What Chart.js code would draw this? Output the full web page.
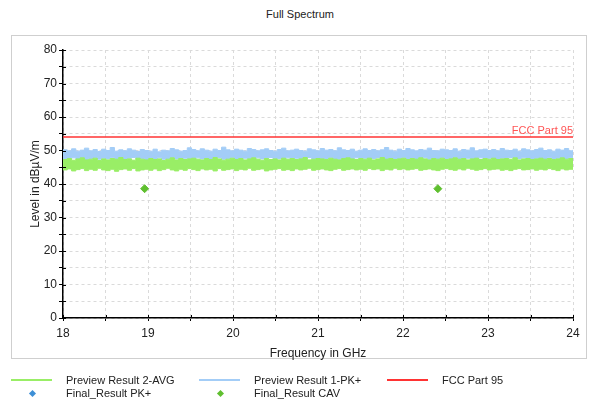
<!DOCTYPE html>
<html>
<head>
<meta charset="utf-8">
<script src="https://cdn.jsdelivr.net/npm/chart.js@4/dist/chart.umd.min.js"></script>
<style>
  body { margin: 0; background: #fff; font-family: "Liberation Sans", Arial, sans-serif; color: #222; }
  #wrap { position: relative; width: 590px; height: 401px; overflow: hidden; }
  #frame { position: absolute; left: 11px; top: 35px; width: 574px; height: 322px; border: 1px solid #cfcfcf; }
  #title { position: absolute; left: 0; width: 600px; top: 8px; text-align: center; font-size: 11px; }
  canvas { position: absolute; left: 0; top: 0; }
  .lg { position: absolute; font-size: 11px; line-height: 13px; white-space: nowrap; }
  .ln { position: absolute; height: 2px; width: 41px; }
  .dm { position: absolute; width: 5px; height: 5px; transform: rotate(45deg); }
</style>
</head>
<body>
<div id="wrap">
  <div id="frame"></div>
  <div id="title">Full Spectrum</div>
  <canvas id="myChart" width="590" height="401"></canvas>

  <!-- legende en html, 3 colonnes -->
  <div class="ln" style="left:11px;top:379px;background:#99ee66"></div>
  <div class="lg" style="left:66px;top:374px">Preview Result 2-AVG</div>
  <div class="ln" style="left:199px;top:379px;background:#a3cdf7"></div>
  <div class="lg" style="left:254px;top:374px">Preview Result 1-PK+</div>
  <div class="ln" style="left:387px;top:379px;background:#ff3333"></div>
  <div class="lg" style="left:442px;top:374px">FCC Part 95</div>
  <div class="dm" style="left:30px;top:391px;background:#3d8fd6"></div>
  <div class="lg" style="left:66px;top:387px">Final_Result PK+</div>
  <div class="dm" style="left:218px;top:391px;background:#5fbf2f"></div>
  <div class="lg" style="left:254px;top:387px">Final_Result CAV</div>
</div>

<script>
// enveloppes haut / bas des traces (120 cases de 18 a 24 GHz)
const pkHigh = [
  50.2,49.9,50.5,49.8,50.1,50.7,49.9,50.3,49.7,50.4,
  50.0,50.9,49.8,50.2,49.9,50.5,50.1,49.7,50.3,50.0,
  49.8,50.4,49.6,50.1,49.9,50.6,50.2,49.8,50.0,50.8,
  50.3,49.9,50.5,50.1,49.8,50.4,50.0,51.0,50.2,49.9,
  50.4,50.1,49.8,50.6,50.3,49.9,50.2,50.5,50.0,49.8,
  50.3,50.7,49.9,50.1,50.4,50.0,49.8,50.5,50.2,49.9,
  50.6,50.1,50.3,49.9,50.8,50.2,50.0,50.4,49.8,50.1,
  50.5,50.0,50.3,49.9,50.2,50.9,50.1,49.8,50.4,50.0,
  50.6,50.2,49.9,50.3,50.1,50.7,50.0,49.9,50.4,50.2,
  50.0,50.5,49.8,50.3,50.1,50.8,49.9,50.2,50.4,50.0,
  50.3,49.9,50.6,50.1,50.0,50.4,49.8,50.5,50.2,49.9,
  50.3,50.7,50.0,50.2,49.8,50.4,50.1,50.6,49.9,50.2
];
const pkLow = [
  47.6,47.4,47.8,47.5,47.7,47.3,47.6,47.9,47.4,47.7,
  47.5,47.8,47.3,47.6,47.4,47.7,47.9,47.5,47.6,47.3,
  47.7,47.5,47.8,47.4,47.6,47.9,47.5,47.3,47.7,47.6,
  47.4,47.8,47.5,47.7,47.3,47.6,47.9,47.4,47.6,47.8,
  47.5,47.3,47.7,47.6,47.4,47.8,47.5,47.7,47.9,47.4,
  47.6,47.5,47.8,47.3,47.7,47.6,47.4,47.9,47.5,47.7,
  47.3,47.6,47.8,47.5,47.4,47.7,47.6,47.3,47.8,47.5,
  47.7,47.4,47.6,47.9,47.5,47.3,47.7,47.6,47.4,47.8,
  47.5,47.7,47.3,47.6,47.8,47.4,47.7,47.5,47.9,47.6,
  47.4,47.8,47.5,47.3,47.7,47.6,47.4,47.8,47.5,47.7,
  47.6,47.3,47.7,47.5,47.9,47.4,47.6,47.8,47.5,47.3,
  47.7,47.6,47.4,47.8,47.5,47.7,47.3,47.6,47.8,47.5
];
const avgHigh = [
  47.3,47.6,47.1,47.5,47.8,47.2,47.4,47.7,47.0,47.5,
  47.2,47.6,47.4,47.9,47.3,47.5,47.1,47.7,47.4,47.2,
  47.6,47.3,47.5,47.0,47.4,47.8,47.2,47.6,47.3,47.5,
  47.7,47.4,47.2,47.6,47.3,47.9,47.5,47.1,47.4,47.7,
  47.3,47.6,47.2,47.5,47.8,47.4,47.1,47.6,47.3,47.5,
  47.2,47.7,47.4,47.6,47.3,47.5,47.9,47.2,47.4,47.6,
  47.5,47.3,47.7,47.4,47.2,47.6,47.8,47.5,47.3,47.6,
  47.4,47.7,47.2,47.5,47.9,47.4,47.6,47.3,47.5,47.7,
  47.3,47.6,47.4,47.8,47.5,47.2,47.6,47.4,47.7,47.3,
  47.5,47.8,47.4,47.6,47.2,47.5,47.7,47.3,47.6,47.4,
  47.7,47.3,47.5,47.6,47.4,47.8,47.2,47.5,47.6,47.3,
  47.5,47.7,47.4,47.6,47.3,47.5,47.8,47.4,47.6,47.3
];
const avgLow = [
  44.2,44.5,43.9,44.3,44.6,44.0,44.4,44.1,44.7,44.2,
  44.0,44.4,43.8,44.3,44.5,44.1,44.6,43.9,44.2,44.4,
  44.1,44.5,44.0,44.3,44.7,44.2,43.9,44.4,44.1,44.6,
  44.3,44.0,44.5,44.2,44.4,43.9,44.6,44.1,44.3,44.5,
  44.0,44.4,44.2,44.7,44.1,44.3,44.5,43.9,44.2,44.4,
  44.6,44.1,44.3,44.0,44.5,44.2,44.4,44.7,44.1,44.3,
  44.5,44.2,44.0,44.4,44.6,44.1,44.3,44.5,44.2,44.4,
  44.1,44.6,44.3,44.5,44.0,44.4,44.2,44.7,44.3,44.5,
  44.2,44.4,44.6,44.1,44.3,44.5,44.2,44.0,44.4,44.6,
  44.3,44.1,44.5,44.2,44.7,44.4,44.1,44.3,44.6,44.2,
  44.4,44.5,44.1,44.3,44.0,44.4,44.6,44.2,44.3,44.5,
  44.1,44.4,44.2,44.6,44.3,44.0,44.5,44.2,44.4,44.3
];
// balayage 18 - 24 GHz
const freqStart = 18, freqStop = 24;
const freqGHz = [];
for (let i = 0; i < pkHigh.length; ++i) {
  freqGHz.push(freqStart + (freqStop - freqStart) * i / (pkHigh.length - 1));
}
const limitFreq = [18, 24];
const limitLevel = [54, 54];
const cavFreq = [18.96, 22.41];
const cavLevel = [38.6, 38.6];
const pkFreq = [];
const pkLevel = [];

const xy = (xs, ys) => xs.map((x, i) => ({ x: x, y: ys[i] }));

// texte "FCC Part 95" au bout de la ligne rouge
const limitLabel = {
  id: "limitLabel",
  afterDatasetsDraw(chart) {
    const ctx = chart.ctx;
    const x = chart.scales.x.getPixelForValue(24);
    const y = chart.scales.y.getPixelForValue(54);
    ctx.save();
    ctx.font = "11px 'Liberation Sans', Arial, sans-serif";
    ctx.fillStyle = "#ff5555";
    ctx.textAlign = "right";
    ctx.textBaseline = "bottom";
    ctx.fillText("FCC Part 95", x, y - 1);
    ctx.restore();
  },
};

// petits traits de graduation vers l'interieur (les axes les ont des deux cotes)
const innerTicks = {
  id: "innerTicks",
  afterDraw(chart) {
    const ctx = chart.ctx;
    const xs = chart.scales.x, ys = chart.scales.y;
    const area = chart.chartArea;
    ctx.save();
    ctx.strokeStyle = "#000";
    ctx.lineWidth = 1;
    ctx.beginPath();
    xs.ticks.forEach((t) => {
      const px = Math.round(xs.getPixelForValue(t.value)) + 0.5;
      ctx.moveTo(px, area.bottom);
      ctx.lineTo(px, area.bottom - 3);
    });
    ys.ticks.forEach((t) => {
      const py = Math.round(ys.getPixelForValue(t.value)) + 0.5;
      ctx.moveTo(area.left, py);
      ctx.lineTo(area.left + 3, py);
    });
    ctx.stroke();
    ctx.restore();
  },
};

const isMajor = (v) => Math.abs(v - Math.round(v)) < 1e-6;
const green = "#99ee66";
const blue = "#a3cdf7";
const gridColor = "#dadada";

const band = (data, color, fill) => ({
  data: data,
  showLine: true,
  stepped: true,
  borderColor: color,
  backgroundColor: color,
  borderWidth: 1,
  pointRadius: 0,
  fill: fill,
});

const config = {
  type: "scatter",
  data: {
    datasets: [
      // Preview Result 2-AVG
      band(xy(freqGHz, avgHigh), green, "+1"),
      band(xy(freqGHz, avgLow), green, false),
      // Preview Result 1-PK+
      band(xy(freqGHz, pkHigh), blue, "+1"),
      band(xy(freqGHz, pkLow), blue, false),
      {
        label: "FCC Part 95",
        data: xy(limitFreq, limitLevel),
        showLine: true,
        borderColor: "#ff3333",
        borderWidth: 1.5,
        pointRadius: 0,
      },
      {
        label: "Final_Result PK+",
        data: xy(pkFreq, pkLevel),
        pointStyle: "rectRot",
        pointRadius: 4,
        backgroundColor: "#3d8fd6",
        borderColor: "#3d8fd6",
      },
      {
        label: "Final_Result CAV",
        data: xy(cavFreq, cavLevel),
        pointStyle: "rectRot",
        pointRadius: 4,
        backgroundColor: "#5fbf2f",
        borderColor: "#5fbf2f",
      },
    ],
  },
  options: {
    responsive: false,
    animation: false,
    layout: { padding: { left: 12, right: 17, top: 50, bottom: 40 } },
    plugins: { legend: { display: false }, tooltip: { enabled: false } },
    scales: {
      x: {
        type: "linear",
        min: 18,
        max: 24,
        afterFit(scale) { scale.height = 43; },
        ticks: {
          stepSize: 0.5,
          autoSkip: false,
          maxRotation: 0,
          padding: 5,
          color: "#222",
          font: { size: 12, family: "'Liberation Sans', Arial, sans-serif" },
          callback: (v) => (isMajor(v) ? v : ""),
        },
        grid: {
          color: gridColor,
          tickColor: "#000",
          tickLength: 3,
        },
        border: { display: true, color: "#000", width: 1.5, dash: [3, 3] },
        title: {
          display: true,
          text: "Frequency in GHz",
          color: "#222",
          padding: { top: 0, bottom: 0 },
          font: { size: 12, family: "'Liberation Sans', Arial, sans-serif" },
        },
      },
      y: {
        min: 0,
        max: 80,
        afterFit(scale) { scale.width = 51; },
        ticks: {
          stepSize: 5,
          autoSkip: false,
          padding: 2,
          color: "#222",
          font: { size: 12, family: "'Liberation Sans', Arial, sans-serif" },
          callback: (v) => (v % 10 === 0 ? v : ""),
        },
        grid: {
          color: gridColor,
          tickColor: "#000",
          tickLength: 4,
        },
        border: { display: true, color: "#000", width: 1.5, dash: [3, 3] },
        title: {
          display: true,
          text: "Level in dBµV/m",
          color: "#222",
          padding: { top: 16, bottom: 0 },
          font: { size: 12, family: "'Liberation Sans', Arial, sans-serif" },
        },
      },
    },
  },
  plugins: [limitLabel, innerTicks],
};

let context = document.getElementById("myChart").getContext("2d");
let chart = new Chart(context, config);
</script>
</body>
</html>
